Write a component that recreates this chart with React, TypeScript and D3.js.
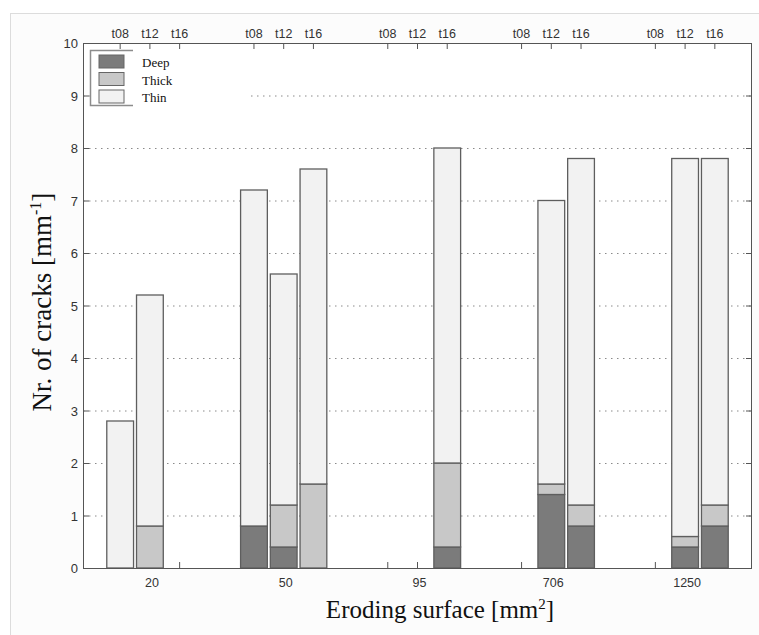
import React from "react";
import * as d3 from "d3";

const surfaces = ["20", "50", "95", "706", "1250"];
const times = ["t08", "t12", "t16"];
const layers = ["Deep", "Thick", "Thin"];
// rows: surface group, columns: t08, t12, t16
const deepVals = [
  [0, 0, 0],
  [0.8, 0.4, 0],
  [0, 0, 0.4],
  [0, 1.4, 0.8],
  [0, 0.4, 0.8],
];
const thickVals = [
  [0, 0.8, 0],
  [0, 0.8, 1.6],
  [0, 0, 1.6],
  [0, 0.2, 0.4],
  [0, 0.2, 0.4],
];
const thinVals = [
  [2.8, 4.4, 0],
  [6.4, 4.4, 6.0],
  [0, 0, 6.0],
  [0, 5.4, 6.6],
  [0, 7.2, 6.6],
];
const yTicks = [0, 1, 2, 3, 4, 5, 6, 7, 8, 9, 10];

const colors: Record<string, string> = {
  Deep: "#7b7b7b",
  Thick: "#c8c8c8",
  Thin: "#f2f2f2",
};

const W = 759;
const H = 635;
const L = 83, R = 752, T = 43, B = 568;

export default function App() {
  const x = d3.scaleLinear().domain([-1.25, 21.25]).range([L, R]);
  const y = d3.scaleLinear().domain([0, 10]).range([B, T]);
  const pos = (g: number, k: number) => g * 4.5 + k;
  const bw = x(0.9) - x(0);

  const rows: any[] = [];
  surfaces.forEach((s, g) => {
    times.forEach((t, k) => {
      const total = deepVals[g][k] + thickVals[g][k] + thinVals[g][k];
      if (total > 0)
        rows.push({ g, k, Deep: deepVals[g][k], Thick: thickVals[g][k], Thin: thinVals[g][k] });
    });
  });
  const series = d3.stack().keys(layers)(rows);

  const tickPositions: { g: number; k: number }[] = [];
  surfaces.forEach((_, g) => times.forEach((_, k) => tickPositions.push({ g, k })));

  const sans = "'Liberation Sans', Arial, sans-serif";
  const serif = "'Liberation Serif', 'Times New Roman', serif";

  return (
    <svg width={W} height={H} style={{ position: "absolute", left: 0, top: 0, background: "#fff" }}>
      <rect x={10.5} y={13.5} width={W} height={H} fill="#fcfcfc" stroke="#dcdcdc" />
      <rect x={L} y={T} width={R - L} height={B - T} fill="#fff" />
      {/* grid */}
      {yTicks.filter((v) => v > 0 && v < 10).map((v) => (
        <line key={"g" + v} x1={L} x2={R} y1={y(v) + 0.5} y2={y(v) + 0.5}
          stroke="#8a8a8a" strokeWidth={1} strokeDasharray="1.5,4.5" />
      ))}
      {/* bottom ticks (behind bars) */}
      {tickPositions.map((p, i) => (
        <line key={"bt" + i} x1={x(pos(p.g, p.k))} x2={x(pos(p.g, p.k))} y1={B} y2={B - 6}
          stroke="#555" strokeWidth={1} />
      ))}
      {/* bars */}
      {series.map((s) => (
        <g key={s.key}>
          {s.map((d: any, i: number) => {
            const h = y(d[0]) - y(d[1]);
            if (h <= 0) return null;
            const cx = x(pos(d.data.g, d.data.k));
            return (
              <rect key={i} x={cx - bw / 2} y={y(d[1])} width={bw} height={h}
                fill={colors[s.key as string]} stroke="#5e5e5e" strokeWidth={1.3} />
            );
          })}
        </g>
      ))}
      {/* legend */}
      <rect x={90} y={50} width={160} height={56} fill="#fff" />
      <path d={`M133,50.5 H90.5 V105.5 H133`} fill="none" stroke="#8c8c8c" strokeWidth={1.5} />
      {layers.map((l, i) => (
        <g key={l}>
          <rect x={99} y={55 + i * 17.5} width={25} height={13} fill={colors[l]} stroke="#666" strokeWidth={1} />
          <text x={142} y={67 + i * 17.5} fontFamily={serif} fontSize={13} fill="#111">{l}</text>
        </g>
      ))}
      {/* frame */}
      <rect x={L + 0.5} y={T + 0.5} width={R - L - 1} height={B - T} fill="none" stroke="#555" strokeWidth={1} />
      {/* y ticks */}
      {yTicks.map((v) => (
        <g key={"y" + v}>
          <line x1={L} x2={L + 6} y1={y(v) + 0.5} y2={y(v) + 0.5} stroke="#555" />
          <line x1={R} x2={R - 6} y1={y(v) + 0.5} y2={y(v) + 0.5} stroke="#555" />
          <text x={78} y={y(v) + 5} textAnchor="end" fontFamily={sans} fontSize={13} fill="#333">{v}</text>
        </g>
      ))}
      {/* top ticks */}
      {tickPositions.map((p, i) => (
        <g key={"tt" + i}>
          <line x1={x(pos(p.g, p.k))} x2={x(pos(p.g, p.k))} y1={T} y2={T + 6} stroke="#555" />
          <text x={x(pos(p.g, p.k))} y={38} textAnchor="middle" fontFamily={sans} fontSize={12.5} fill="#333">
            {times[p.k]}
          </text>
        </g>
      ))}
      {/* bottom labels */}
      {surfaces.map((s, g) => (
        <text key={"s" + s} x={x(pos(g, 1)) + 2} y={587} textAnchor="middle" fontFamily={sans} fontSize={12.5} fill="#333">
          {s}
        </text>
      ))}
      {/* axis titles */}
      <text x={440} y={618} textAnchor="middle" fontFamily={serif} fontSize={25} fill="#111">
        Eroding surface [mm<tspan dy={-9} fontSize={15}>2</tspan><tspan dy={9}>]</tspan>
      </text>
      <text transform={`translate(51,302) rotate(-90)`} textAnchor="middle" fontFamily={serif} fontSize={27} fill="#111">
        Nr. of cracks [mm<tspan dy={-10} fontSize={16}>-1</tspan><tspan dy={10}>]</tspan>
      </text>
    </svg>
  );
}
